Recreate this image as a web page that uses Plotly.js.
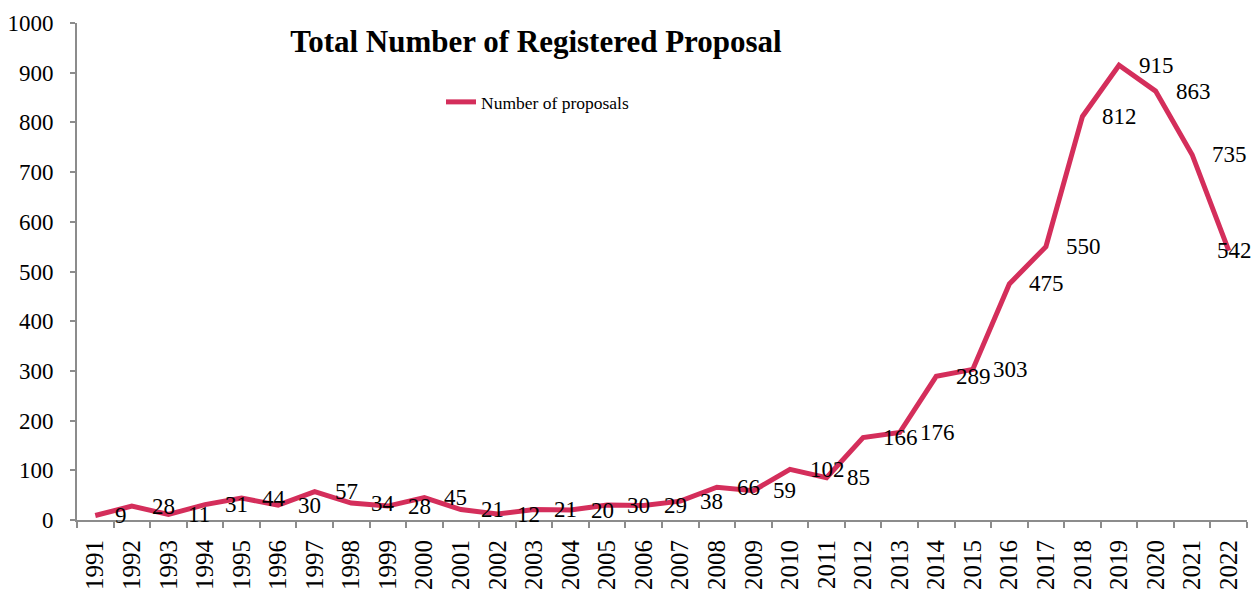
<!DOCTYPE html>
<html>
<head>
<meta charset="utf-8">
<script src="https://cdn.plot.ly/plotly-3.0.1.min.js"></script>
<style>html,body{margin:0;padding:0;background:#fff}#chart{width:1254px;height:598px}</style>
</head>
<body>
<div id="chart"></div>
<script>
const years = ['1991','1992','1993','1994','1995','1996','1997','1998','1999','2000','2001','2002','2003','2004','2005','2006','2007','2008','2009','2010','2011','2012','2013','2014','2015','2016','2017','2018','2019','2020','2021','2022'];
const proposals = [9,28,11,31,44,30,57,34,28,45,21,12,21,20,30,29,38,66,59,102,85,166,176,289,303,475,550,812,915,863,735,542];
const yTicks = [0,100,200,300,400,500,600,700,800,900,1000];

const serif = 'Liberation Serif, Times New Roman, serif';
const lineColor = '#D42E5B';
const axisColor = '#8C8C8C';

const annotations = years.map((yr, i) => {
  const last = i === years.length - 1;
  return {
    x: i, y: proposals[i], xref: 'x', yref: 'y',
    text: String(proposals[i]), showarrow: false,
    xanchor: last ? 'center' : 'left', yanchor: 'middle',
    xshift: last ? 6 : 18,
    font: {family: serif, size: 23, color: '#000'}
  };
});

const trace = {
  x: years, y: proposals, type: 'scatter', mode: 'lines',
  name: 'Number of proposals',
  line: {color: lineColor, width: 5},
  cliponaxis: false
};

const layout = {
  width: 1254, height: 598,
  margin: {l: 77, r: 7, t: 23, b: 78},
  paper_bgcolor: '#fff', plot_bgcolor: '#fff',
  title: {text: '<b>Total Number of Registered Proposal</b>', x: 536/1254, xanchor: 'center', y: 1 - 41/598, yanchor: 'middle',
    font: {family: serif, size: 31, color: '#000'}},
  showlegend: true,
  legend: {x: (441 - 77)/1170, xanchor: 'left', y: (520 - 102)/497, yanchor: 'middle', bgcolor: 'rgba(0,0,0,0)',
    font: {family: serif, size: 17.5, color: '#000'}, itemwidth: 30, tracegroupgap: 0},
  xaxis: {
    type: 'category', range: [-0.5, 31.5], tickson: 'boundaries',
    showline: true, linecolor: axisColor, linewidth: 2,
    ticks: 'outside', ticklen: 6, tickwidth: 2, tickcolor: axisColor,
    tickangle: -90, showgrid: false, zeroline: false,
    tickfont: {family: serif, size: 25, color: '#000'}, ticklabelstandoff: 8
  },
  yaxis: {
    range: [0, 1000], tickvals: yTicks, ticktext: yTicks.map(String),
    showline: true, linecolor: axisColor, linewidth: 2,
    ticks: 'outside', ticklen: 5, tickwidth: 2, tickcolor: axisColor,
    showgrid: false, zeroline: false,
    tickfont: {family: serif, size: 23, color: '#000'}, ticklabelstandoff: 12
  },
  annotations: annotations
};

Plotly.newPlot('chart', [trace], layout, {displayModeBar: false, staticPlot: true});
</script>
</body>
</html>
